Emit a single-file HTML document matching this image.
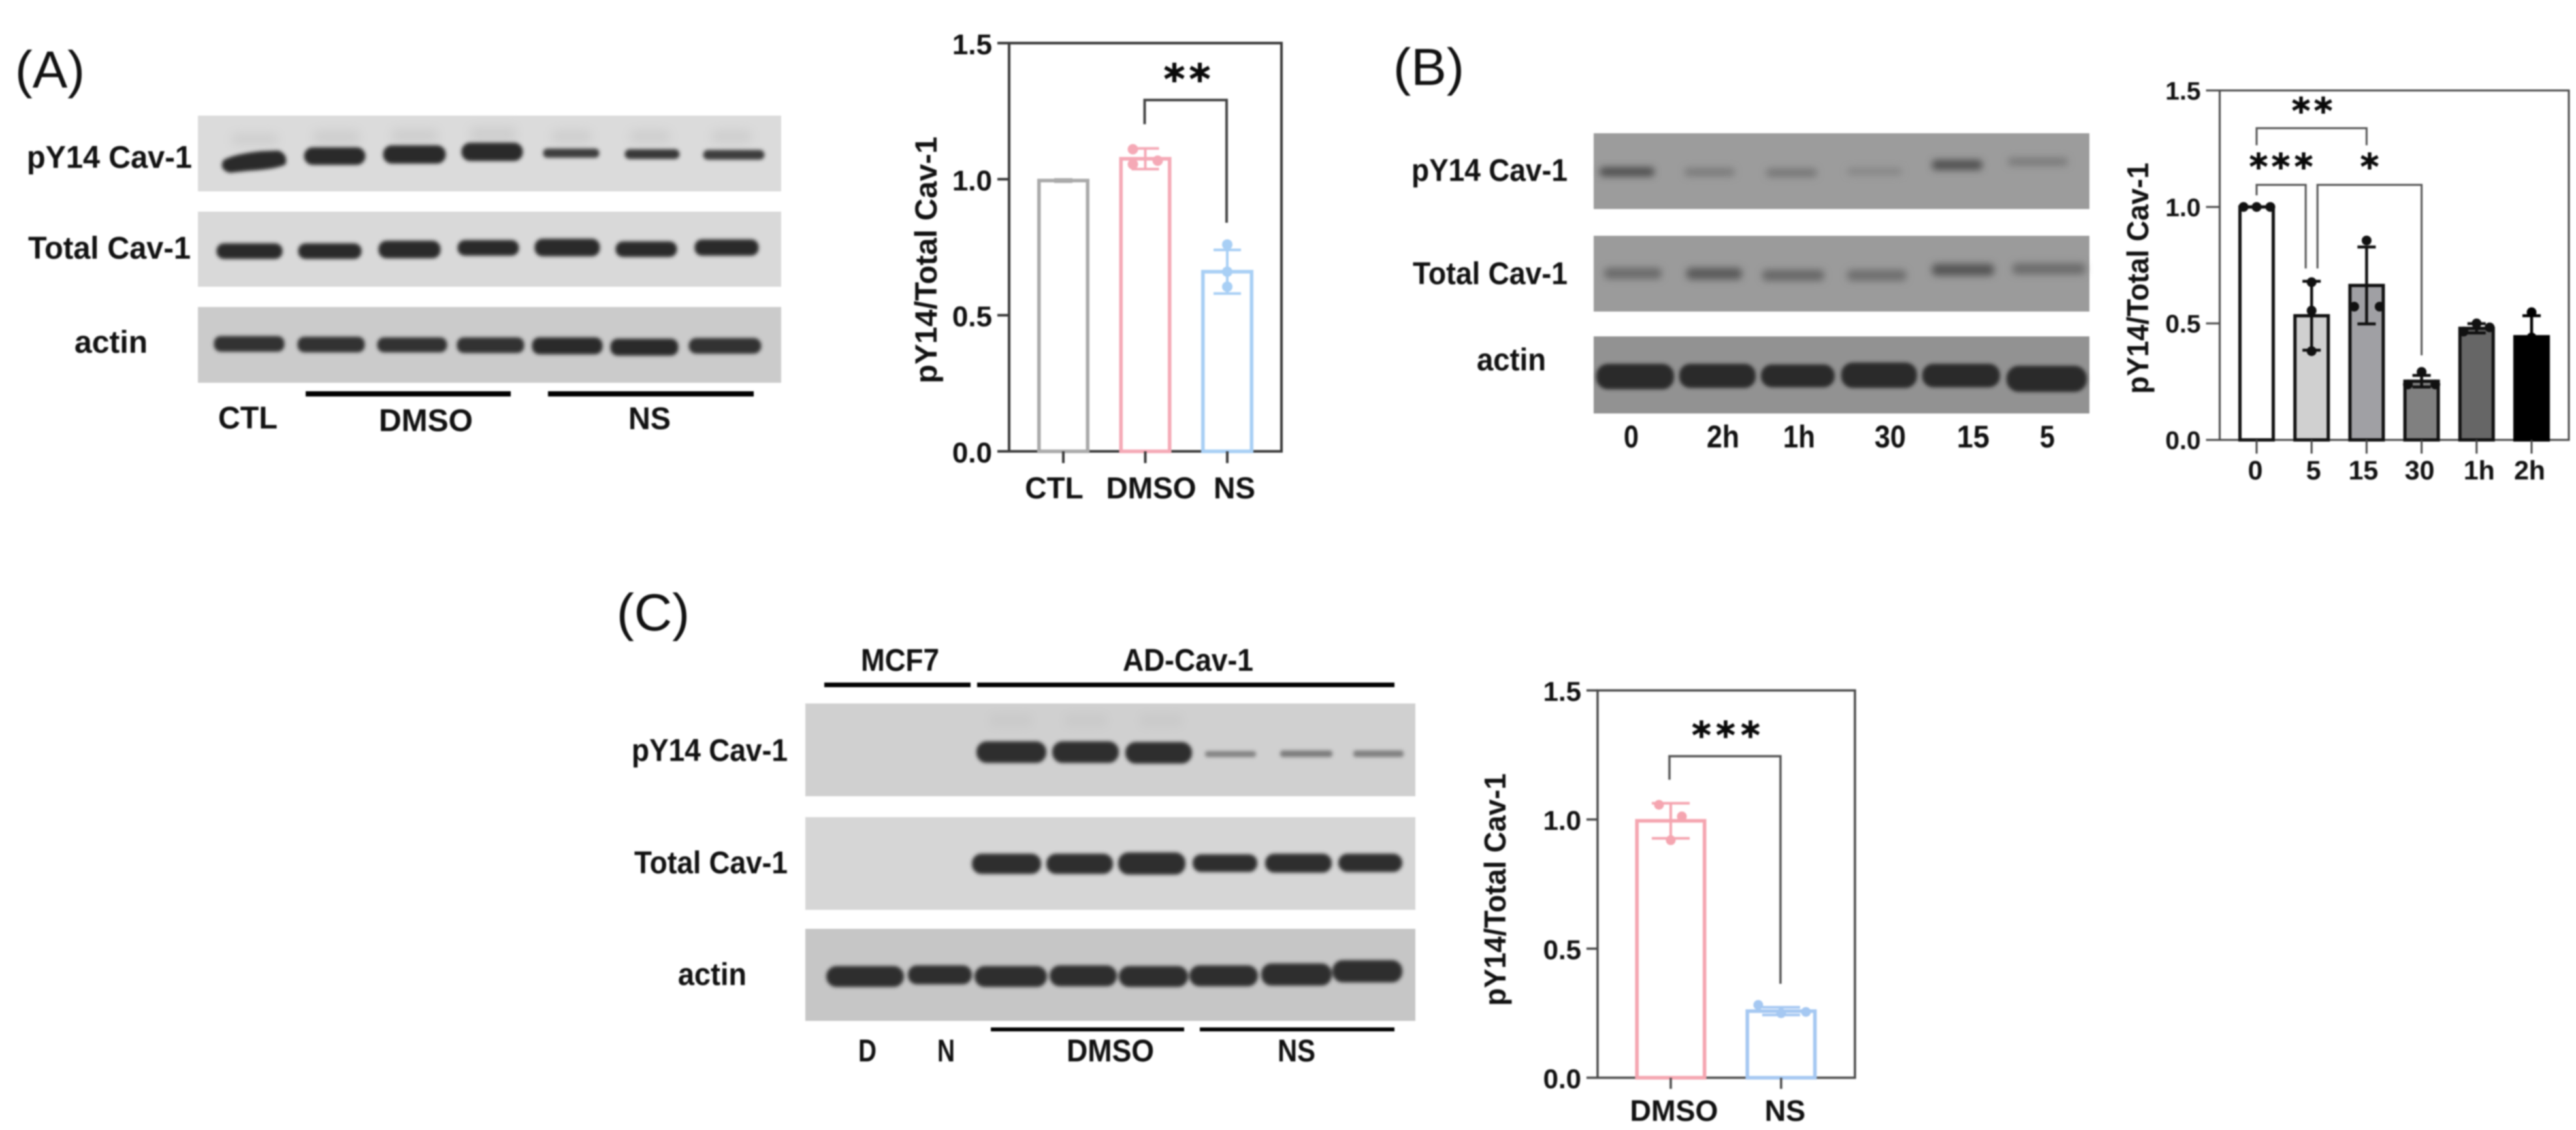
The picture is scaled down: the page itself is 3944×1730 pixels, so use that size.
<!DOCTYPE html>
<html lang="en">
<head>
<meta charset="utf-8">
<title>Caveolin-1 phosphorylation western blots and quantification</title>
<style>
html,body{margin:0;padding:0;background:#fff;width:3944px;height:1730px;overflow:hidden}
svg{display:block;filter:blur(1px)}
text{font-family:"Liberation Sans",Arial,sans-serif;fill:#111}
.gl{font-weight:700;font-size:48px}
.pl{font-weight:400;font-size:80px}
.star{font-family:"DejaVu Sans",sans-serif;font-weight:700;fill:#0a0a0a;stroke:#0a0a0a;stroke-width:1}
</style>
</head>
<body>
<svg id="figure" xmlns="http://www.w3.org/2000/svg" width="3944" height="1730" viewBox="0 0 3944 1730">
<defs>
<filter id="b3" x="-20%" y="-60%" width="140%" height="220%"><feGaussianBlur stdDeviation="2.6"/></filter>
<filter id="b5" x="-20%" y="-100%" width="140%" height="300%"><feGaussianBlur stdDeviation="5.5"/></filter>
<filter id="b9" x="-30%" y="-80%" width="160%" height="260%"><feGaussianBlur stdDeviation="8"/></filter>
</defs>
<rect width="3944" height="1730" fill="#fff"/>

<!-- Panel letters -->
<text class="pl" x="23" y="134" textLength="107" lengthAdjust="spacingAndGlyphs">(A)</text>
<text class="pl" x="2133" y="130" textLength="109" lengthAdjust="spacingAndGlyphs">(B)</text>
<text class="pl" x="944" y="965" textLength="112" lengthAdjust="spacingAndGlyphs">(C)</text>

<!-- Panel A blots -->
<g>
<rect x="303" y="177" width="893" height="116" fill="#dbdbdb"/>
<rect x="303" y="324" width="893" height="115" fill="#d9d9d9"/>
<rect x="303" y="470" width="893" height="116" fill="#cbcbcb"/>
<g fill="#cdcdcd" filter="url(#b9)">
<rect x="355" y="205" width="70" height="16"/><rect x="480" y="200" width="70" height="20"/><rect x="600" y="198" width="70" height="20"/><rect x="720" y="195" width="70" height="22"/><rect x="845" y="200" width="60" height="18"/><rect x="965" y="200" width="60" height="18"/><rect x="1090" y="200" width="60" height="18"/>
</g>
<g fill="#2c2c2c" stroke="#2c2c2c" stroke-width="5" filter="url(#b3)">
<path d="M344 247 Q360 238 400 234 L426 233 Q438 238 435 250 Q420 257 380 259 L352 262 Q338 258 344 247Z"/>
<rect x="468" y="228" width="89" height="22" rx="11"/>
<rect x="589" y="225" width="91" height="23" rx="11"/>
<rect x="709" y="221" width="89" height="23" rx="11"/>
<rect x="833" y="229" width="83" height="11" rx="5" fill="#3c3c3c" stroke="#3c3c3c" stroke-width="3"/>
<rect x="958" y="230" width="81" height="12" rx="6" fill="#383838" stroke="#383838" stroke-width="3"/>
<rect x="1078" y="231" width="91" height="12" rx="6" fill="#3c3c3c" stroke="#3c3c3c" stroke-width="3"/>
<rect x="334" y="375" width="96" height="19" rx="9"/>
<rect x="459" y="375" width="92" height="19" rx="9"/>
<rect x="582" y="371" width="90" height="22" rx="10"/>
<rect x="703" y="370" width="89" height="19" rx="9"/>
<rect x="821" y="368" width="95" height="22" rx="10"/>
<rect x="945" y="372" width="89" height="19" rx="9"/>
<rect x="1066" y="369" width="93" height="20" rx="9"/>
<rect x="330" y="517" width="103" height="19" rx="8" fill="#333" stroke="#333"/>
<rect x="458" y="518" width="98" height="19" rx="8" fill="#333" stroke="#333"/>
<rect x="580" y="519" width="102" height="18" rx="8" fill="#333" stroke="#333"/>
<rect x="702" y="519" width="98" height="19" rx="8" fill="#333" stroke="#333"/>
<rect x="817" y="519" width="103" height="21" rx="9"/>
<rect x="937" y="521" width="99" height="21" rx="9"/>
<rect x="1057" y="520" width="106" height="19" rx="9" fill="#333" stroke="#333"/>
</g>
<text class="gl" x="41" y="257" textLength="253" lengthAdjust="spacingAndGlyphs">pY14 Cav-1</text>
<text class="gl" x="43" y="396" textLength="249" lengthAdjust="spacingAndGlyphs">Total Cav-1</text>
<text class="gl" x="114" y="540" textLength="112" lengthAdjust="spacingAndGlyphs">actin</text>
<rect x="468" y="599" width="314" height="8" fill="#000"/>
<rect x="839" y="599" width="315" height="8" fill="#000"/>
<text class="gl" x="334" y="656" textLength="91" lengthAdjust="spacingAndGlyphs">CTL</text>
<text class="gl" x="580" y="660" textLength="144" lengthAdjust="spacingAndGlyphs">DMSO</text>
<text class="gl" x="962" y="657" textLength="65" lengthAdjust="spacingAndGlyphs">NS</text>
</g>

<!-- Panel B blots -->
<g>
<rect x="2440" y="204" width="759" height="116" fill="#9c9c9c"/>
<rect x="2440" y="361" width="759" height="116" fill="#9b9b9b"/>
<rect x="2440" y="515" width="759" height="118" fill="#929292"/>
<g filter="url(#b5)">
<rect x="2449" y="256" width="84" height="14" rx="6" fill="#4e4e4e"/>
<rect x="2579" y="257" width="77" height="13" rx="6" fill="#7c7c7c"/>
<rect x="2704" y="258" width="78" height="13" rx="6" fill="#777"/>
<rect x="2828" y="257" width="84" height="11" rx="5" fill="#868686"/>
<rect x="2958" y="245" width="77" height="15" rx="6" fill="#4e4e4e"/>
<rect x="3074" y="241" width="92" height="13" rx="6" fill="#7c7c7c"/>
<rect x="2456" y="410" width="88" height="17" rx="7" fill="#6a6a6a"/>
<rect x="2582" y="410" width="85" height="18" rx="7" fill="#5a5a5a"/>
<rect x="2698" y="413" width="95" height="17" rx="7" fill="#686868"/>
<rect x="2828" y="413" width="91" height="17" rx="7" fill="#6e6e6e"/>
<rect x="2958" y="404" width="95" height="18" rx="7" fill="#555"/>
<rect x="3081" y="403" width="112" height="17" rx="7" fill="#6c6c6c"/>
</g>
<g fill="#2b2b2b" stroke="#2b2b2b" stroke-width="4" filter="url(#b3)">
<rect x="2446" y="559" width="115" height="35" rx="16"/>
<rect x="2573" y="559" width="113" height="33" rx="15"/>
<rect x="2698" y="560" width="109" height="31" rx="15"/>
<rect x="2821" y="557" width="112" height="35" rx="16"/>
<rect x="2945" y="559" width="115" height="32" rx="15"/>
<rect x="3074" y="562" width="119" height="36" rx="17"/>
</g>
<text class="gl" x="2161" y="277" textLength="239" lengthAdjust="spacingAndGlyphs">pY14 Cav-1</text>
<text class="gl" x="2163" y="435" textLength="237" lengthAdjust="spacingAndGlyphs">Total Cav-1</text>
<text class="gl" x="2261" y="567" textLength="106" lengthAdjust="spacingAndGlyphs">actin</text>
<text class="gl" x="2486" y="685" textLength="23" lengthAdjust="spacingAndGlyphs">0</text>
<text class="gl" x="2613" y="685" textLength="50" lengthAdjust="spacingAndGlyphs">2h</text>
<text class="gl" x="2730" y="685" textLength="49" lengthAdjust="spacingAndGlyphs">1h</text>
<text class="gl" x="2870" y="685" textLength="48" lengthAdjust="spacingAndGlyphs">30</text>
<text class="gl" x="2996" y="685" textLength="50" lengthAdjust="spacingAndGlyphs">15</text>
<text class="gl" x="3123" y="685" textLength="23" lengthAdjust="spacingAndGlyphs">5</text>
</g>

<!-- Panel C blots -->
<g>
<rect x="1233" y="1077" width="934" height="142" fill="#d0d0d0"/>
<rect x="1233" y="1251" width="934" height="142" fill="#d6d6d6"/>
<rect x="1233" y="1422" width="934" height="141" fill="#c6c6c6"/>
<g fill="#c9c9c9" filter="url(#b9)">
<rect x="1515" y="1094" width="65" height="18"/><rect x="1630" y="1094" width="65" height="18"/><rect x="1745" y="1094" width="65" height="18"/>
</g>
<g fill="#2d2d2d" stroke="#2d2d2d" stroke-width="4" filter="url(#b3)">
<rect x="1497" y="1137" width="103" height="29" rx="14"/>
<rect x="1613" y="1137" width="98" height="29" rx="14"/>
<rect x="1725" y="1138" width="98" height="29" rx="14"/>
<rect x="1845" y="1150" width="78" height="9" rx="4" fill="#808080" stroke="none"/>
<rect x="1960" y="1149" width="80" height="10" rx="4" fill="#7a7a7a" stroke="none"/>
<rect x="2072" y="1149" width="77" height="10" rx="4" fill="#7e7e7e" stroke="none"/>
<rect x="1490" y="1309" width="102" height="27" rx="13"/>
<rect x="1604" y="1309" width="98" height="27" rx="13"/>
<rect x="1714" y="1307" width="99" height="30" rx="14"/>
<rect x="1828" y="1310" width="95" height="23" rx="11"/>
<rect x="1939" y="1309" width="98" height="25" rx="12"/>
<rect x="2051" y="1309" width="94" height="24" rx="12"/>
<rect x="1267" y="1481" width="115" height="28" rx="14"/>
<rect x="1392" y="1480" width="94" height="25" rx="12"/>
<rect x="1494" y="1481" width="107" height="28" rx="14"/>
<rect x="1609" y="1480" width="99" height="28" rx="14"/>
<rect x="1715" y="1481" width="102" height="28" rx="14"/>
<rect x="1823" y="1480" width="101" height="28" rx="14"/>
<rect x="1933" y="1477" width="104" height="30" rx="14"/>
<rect x="2042" y="1472" width="103" height="30" rx="14"/>
</g>
<text class="gl" x="1318" y="1027" textLength="120" lengthAdjust="spacingAndGlyphs">MCF7</text>
<text class="gl" x="1719" y="1027" textLength="200" lengthAdjust="spacingAndGlyphs">AD-Cav-1</text>
<rect x="1262" y="1045" width="224" height="7" fill="#000"/>
<rect x="1496" y="1045" width="639" height="7" fill="#000"/>
<text class="gl" x="967" y="1165" textLength="239" lengthAdjust="spacingAndGlyphs">pY14 Cav-1</text>
<text class="gl" x="971" y="1337" textLength="235" lengthAdjust="spacingAndGlyphs">Total Cav-1</text>
<text class="gl" x="1038" y="1508" textLength="105" lengthAdjust="spacingAndGlyphs">actin</text>
<rect x="1517" y="1573" width="296" height="6" fill="#000"/>
<rect x="1837" y="1573" width="298" height="6" fill="#000"/>
<text class="gl" x="1314" y="1625" textLength="28" lengthAdjust="spacingAndGlyphs">D</text>
<text class="gl" x="1435" y="1625" textLength="27" lengthAdjust="spacingAndGlyphs">N</text>
<text class="gl" x="1633" y="1625" textLength="134" lengthAdjust="spacingAndGlyphs">DMSO</text>
<text class="gl" x="1956" y="1625" textLength="58" lengthAdjust="spacingAndGlyphs">NS</text>
</g>

<g id="charts"></g>
</svg>

<script>
// Shared axis ticks
const yTickValues = [0, 0.5, 1.0, 1.5];
const yTickLabels = ["0.0", "0.5", "1.0", "1.5"];

// Chart A data
const categoriesA = ["CTL", "DMSO", "NS"];
const meansA = [0.995, 1.075, 0.66];
const sdsA = [0.004, 0.038, 0.08];
const pointsA = [[], [1.11, 1.055, 1.068], [0.76, 0.66, 0.605]];

// Chart B data
const categoriesB = ["0", "5", "15", "30", "1h", "2h"];
const meansB = [1.0, 0.533, 0.663, 0.252, 0.479, 0.443];
const sdsB = [0, 0.148, 0.165, 0.025, 0.02, 0.09];
const pointsB = [[1, 1, 1], [0.677, 0.555, 0.381], [0.856, 0.572, 0.572], [0.292, 0.238, 0.238], [0.5, 0.465, 0.483], [0.548, 0.44, 0.34]];

// Chart C data
const categoriesC = ["DMSO", "NS"];
const meansC = [0.995, 0.258];
const sdsC = [0.068, 0.015];
const pointsC = [[1.057, 1.012, 0.92], [0.282, 0.25, 0.255]];

const SVGNS = "http://www.w3.org/2000/svg";
const root = document.getElementById("charts");

function make(tag, attrs, parent) {
  const el = document.createElementNS(SVGNS, tag);
  for (const k in attrs) el.setAttribute(k, attrs[k]);
  parent.appendChild(el);
  return el;
}

function drawChart(c) {
  const g = make("g", {}, root);
  
  

  const yScale = v => c.bottom - (v / 1.5) * (c.bottom - c.top);
  const xScale = i => c.x0 + i * c.step;
  const halfBar = (c.barW - c.barStroke) / 2;

  // frame
  const frame = make("path", {
    d: "M" + c.left + " " + c.bottom + "V" + c.top + "H" + c.right + "V" + c.bottom + "H" + c.left,
    fill: "none", stroke: c.axisColor, "stroke-width": c.axisW
  }, g);
  
  

  // y ticks
  yTickValues.forEach((v, i) => {
    const t = make("line", {
      x1: c.left - c.tickLen, x2: c.left, y1: yScale(v), y2: yScale(v),
      stroke: c.axisColor, "stroke-width": c.axisW
    }, g);
    
    
    const lab = make("text", {
      x: c.left - c.tickLen - c.tickPad, y: yScale(v) + c.tickBase,
      "text-anchor": "end", "font-weight": "700", "font-size": c.tickFs
    }, g);
    lab.textContent = yTickLabels[i];
    
    
  });

  // y title
  const title = make("text", {
    transform: "translate(" + c.yTitleX + " " + c.yTitleBottom + ") rotate(-90)",
    "font-weight": "700", "font-size": c.yTitleFs,
    textLength: c.yTitleLen, lengthAdjust: "spacingAndGlyphs"
  }, g);
  title.textContent = "pY14/Total Cav-1";
  
  

  // bars, whiskers, points, x labels
  c.categories.forEach((cat, i) => {
    const x = xScale(i);
    const bar = make("rect", {
      x: x - halfBar, y: yScale(c.means[i]), width: halfBar * 2,
      height: c.bottom - yScale(c.means[i]),
      fill: c.fills[i], stroke: c.strokes[i], "stroke-width": c.barStroke
    }, g);
    
    

    const tick = make("line", {
      x1: x, x2: x, y1: c.bottom, y2: c.bottom + c.tickLen,
      stroke: c.axisColor, "stroke-width": c.axisW
    }, g);
    
    

    const sd = c.sds[i];
    if (sd > 0) {
      const hi = yScale(c.means[i] + sd), lo = yScale(c.means[i] - sd);
      const cap = sd < 0.01 ? 14 : c.capHalf;
      const whisker = make("path", {
        d: "M" + x + " " + hi + "V" + lo + "M" + (x - cap) + " " + hi + "H" + (x + cap) + "M" + (x - cap) + " " + lo + "H" + (x + cap),
        fill: "none", stroke: c.strokes[i], "stroke-width": c.errW
      }, g);
      
      
    }

    c.points[i].forEach((v, j) => {
      const dot = make("circle", {
        cx: x + c.jitter[i][j], cy: yScale(v), r: c.r,
        fill: c.strokes[i]
      }, g);
      
      
    });

    const lab = make("text", {
      x: x + c.labelDx[i], y: c.labelY, "text-anchor": "middle",
      "font-weight": "700", "font-size": c.labelFs
    }, g);
    lab.textContent = cat;
    
    
  });

  // significance brackets
  c.brackets.forEach(b => {
    const xa = xScale(b.from) + b.dxFrom, xb = xScale(b.to) + b.dxTo;
    const br = make("path", {
      d: "M" + xa + " " + yScale(b.leftEnd) + "V" + yScale(b.top) + "H" + xb + "V" + yScale(b.rightEnd),
      fill: "none", stroke: c.bracketColor, "stroke-width": c.bracketW
    }, g);
    
    
    const stars = make("text", {
      class: "star", x: b.starX, y: yScale(b.starV) + c.starFs * 0.5,
      "text-anchor": "middle", "font-size": c.starFs
    }, g);
    stars.textContent = b.label;
    
    
  });
}

drawChart({
  name: "chart-a", categories: categoriesA, means: meansA, sds: sdsA, points: pointsA,
  left: 1545, right: 1962, top: 66, bottom: 691, x0: 1628, step: 125.5, barW: 80, barStroke: 5.5,
  axisColor: "#3a3a3a", axisW: 4, tickLen: 18, tickPad: 8, tickBase: 17, tickFs: 44,
  yTitleX: 1434, yTitleBottom: 587, yTitleFs: 47, yTitleLen: 378,
  fills: ["#fff", "#fff", "#fff"], strokes: ["#aaaaaa", "#f5a9b6", "#a8cff5"],
  capHalf: 21, errW: 4, r: 8,
  labelDx: [-14, 9, 11], labelY: 763, labelFs: 46,
  jitter: [[], [-19, -19, 19], [0, 0, 0]],
  bracketColor: "#444", bracketW: 4, starFs: 62,
  brackets: [{ from: 1, to: 2, dxFrom: -1, dxTo: -1, top: 1.291, leftEnd: 1.202, rightEnd: 0.84, label: "**", starX: "1798 1837", starV: 1.39 }]
});

drawChart({
  name: "chart-b", categories: categoriesB, means: meansB, sds: sdsB, points: pointsB,
  left: 3398.5, right: 3933, top: 138.5, bottom: 673.5, x0: 3455, step: 84.2, barW: 56, barStroke: 5,
  axisColor: "#4a4a4a", axisW: 3, tickLen: 21, tickPad: 8, tickBase: 14, tickFs: 39,
  yTitleX: 3289, yTitleBottom: 603, yTitleFs: 46, yTitleLen: 354,
  fills: ["#ffffff", "#d0d0d0", "#a0a0a4", "#808080", "#666666", "#000000"],
  strokes: ["#111", "#111", "#111", "#111", "#111", "#000"],
  capHalf: 14, errW: 4.5, r: 7.5,
  labelDx: [-2, 3, -5, -3, 4, -3], labelY: 734, labelFs: 41,
  jitter: [[-20, 0, 21], [0, 0, 0], [0, -19, 20], [0, -21, 21], [0, -20, 20], [0, 0, 0]],
  bracketColor: "#555", bracketW: 3, starFs: 54,
  brackets: [
    { from: 0, to: 2, dxFrom: 0, dxTo: 0, top: 1.338, leftEnd: 1.265, rightEnd: 1.265, label: "**", starX: "3523 3557", starV: 1.436 },
    { from: 0, to: 1, dxFrom: 0, dxTo: -9, top: 1.095, leftEnd: 1.05, rightEnd: 0.736, label: "***", starX: "3458 3492 3527", starV: 1.196 },
    { from: 1, to: 3, dxFrom: 9, dxTo: 0, top: 1.095, leftEnd: 0.736, rightEnd: 0.363, label: "*", starX: "3628", starV: 1.196 }
  ]
});

drawChart({
  name: "chart-c", categories: categoriesC, means: meansC, sds: sdsC, points: pointsC,
  left: 2446, right: 2840, top: 1057, bottom: 1650, x0: 2558, step: 169, barW: 109, barStroke: 5.5,
  axisColor: "#4a4a4a", axisW: 3.5, tickLen: 17, tickPad: 8, tickBase: 16, tickFs: 42,
  yTitleX: 2305, yTitleBottom: 1540, yTitleFs: 46, yTitleLen: 356,
  fills: ["#fff", "#fff"], strokes: ["#f5a5b0", "#a5c8f2"],
  capHalf: 29, errW: 4, r: 7.5,
  labelDx: [5, 6], labelY: 1716, labelFs: 45,
  jitter: [[-18, 17, 0], [-35, 0, 38]],
  bracketColor: "#555", bracketW: 3.5, starFs: 56,
  brackets: [{ from: 0, to: 1, dxFrom: -2, dxTo: -1, top: 1.245, leftEnd: 1.154, rightEnd: 0.364, label: "***", starX: "2605 2642 2680", starV: 1.348 }]
});
</script>
</body>
</html>
